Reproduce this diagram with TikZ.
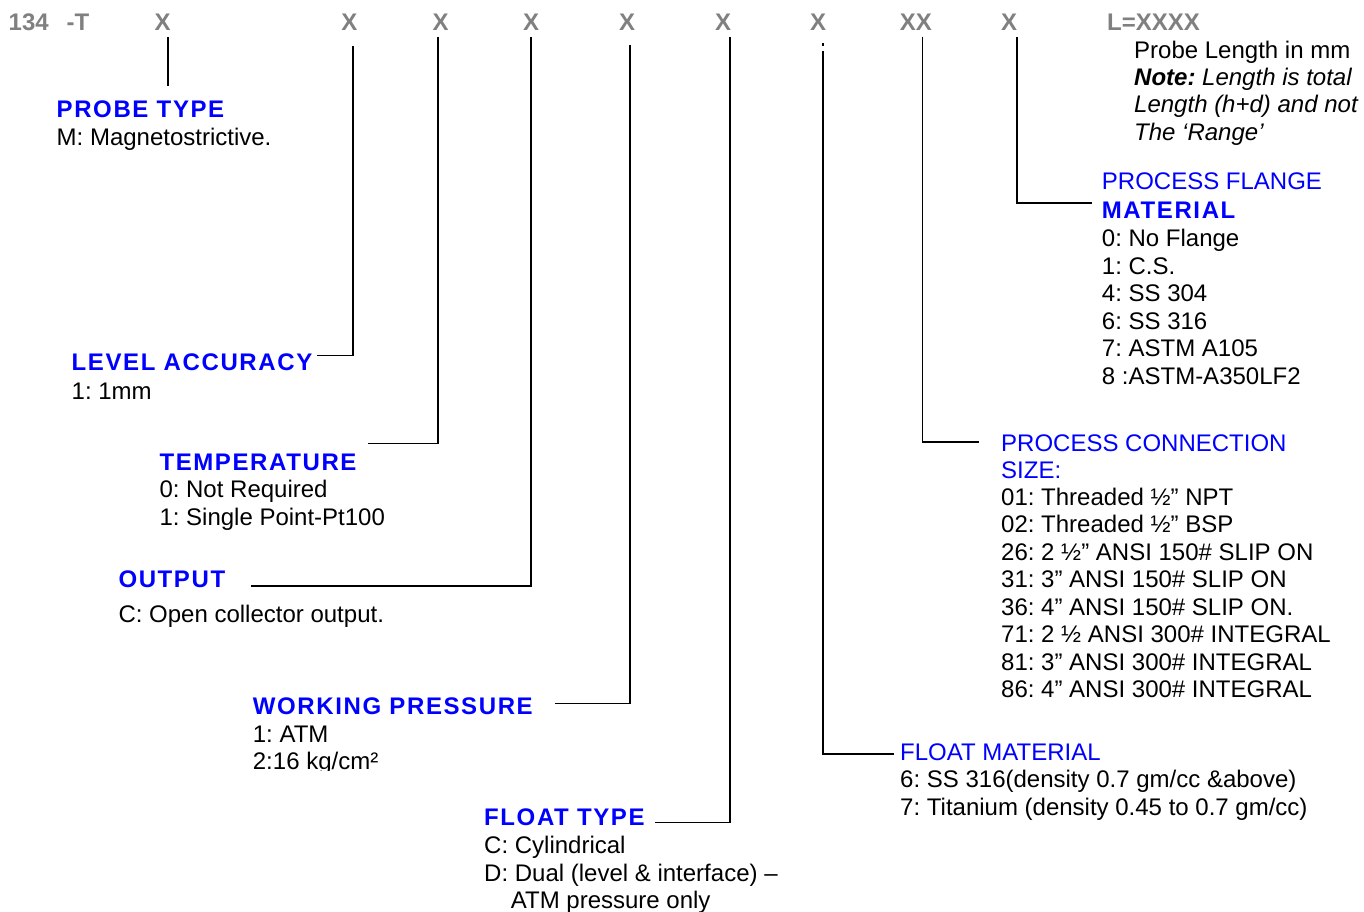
\documentclass[tikz,border=0pt]{standalone}
\usepackage{fontspec}
\setmainfont{Liberation Sans}
\frenchspacing
\definecolor{hblue}{RGB}{0,0,255}
\definecolor{codegray}{RGB}{128,128,128}
\tikzset{
  code/.style={font=\fontsize{24pt}{27pt}\selectfont\bfseries, text=codegray, inner sep=0pt, anchor=base},
  head/.style={font=\fontsize{24pt}{27pt}\selectfont\bfseries\addfontfeature{LetterSpace=6.7}, text=hblue, inner sep=0pt, anchor=base west},
  headplain/.style={font=\fontsize{24pt}{27pt}\selectfont, text=hblue, inner sep=0pt, anchor=base west},
  body/.style={font=\fontsize{24pt}{27pt}\selectfont\frenchspacing, text=black, inner sep=0pt, anchor=base west},
  conn/.style={draw=black, line width=1.6pt},
}
\begin{document}
\begin{tikzpicture}[x=1pt,y=-1pt]
\useasboundingbox (0,0) rectangle (1364,911);

% ---- code row ----
\node[code, anchor=base west] (c134) at (8.5,30) {134};
\node[code, anchor=base west] (cT) at (66.5,30) {-T};
\node[code] (tx1) at (162.7,30) {X};
\node[code] (tx2) at (349.3,30) {X};
\node[code] (tx3) at (440.7,30) {X};
\node[code] (tx4) at (531,30) {X};
\node[code] (tx5) at (627,30) {X};
\node[code] (tx6) at (723,30) {X};
\node[code] (tx7) at (818,30) {X};
\node[code] (tx8) at (915.8,30) {XX};
\node[code] (tx9) at (1009,30) {X};
\node[code, anchor=base west] (lx) at (1107,30) {L=XXXX};

% ---- probe length note ----
\node[body] (pl1) at (1134,58.3) {Probe Length in mm};
\node[body] (pl2) at (1134,85.6) {{\bfseries\itshape Note:} {\itshape Length is total}};
\node[body] (pl3) at (1134,112.9) {\itshape Length (h+d) and not};
\node[body] (pl4) at (1134,140.2) {\itshape The ‘Range’};

% ---- probe type ----
\node[head] (pt) at (56.5,117) {PROBE TYPE};
\node[body] (ptb) at (56.5,145) {M: Magnetostrictive.};

% ---- level accuracy ----
\node[head] (la) at (71.5,370.5) {LEVEL ACCURACY};
\node[body] (lab) at (71.5,399.3) {1: 1mm};

% ---- temperature ----
\node[head] (te) at (159.3,470) {TEMPERATURE};
\node[body] (teb1) at (159.3,497.7) {0: Not Required};
\node[body] (teb2) at (159.3,525) {1: Single Point-Pt100};

% ---- output ----
\node[head] (ou) at (118.3,587) {OUTPUT};
\node[body] (oub) at (118.3,622.7) {C: Open collector output.};

% ---- working pressure ----
\node[head] (wp) at (252.7,714) {WORKING PRESSURE};
\node[body] (wpb1) at (252.7,742.7) {1: ATM};
\begin{scope}
  \clip (240,745) rectangle (560,770.7);
  \node[body] (wpb2) at (252.7,769.5) {2:16 kg/cm²};
\end{scope}

% ---- float type ----
\node[head] (ft) at (484,825) {FLOAT TYPE};
\node[body] (ftb1) at (484,853) {C: Cylindrical};
\node[body] (ftb2) at (484,881) {D: Dual (level \& interface) –};
\node[body] (ftb3) at (510.7,908) {ATM pressure only};

% ---- float material ----
\node[headplain] (fm) at (900,760) {FLOAT MATERIAL};
\node[body] (fmb1) at (900,787.5) {6: SS 316(density 0.7 gm/cc \&above)};
\node[body] (fmb2) at (900,815) {7: Titanium (density 0.45 to 0.7 gm/cc)};

% ---- process connection size ----
\node[headplain] (pc) at (1001,451) {PROCESS CONNECTION};
\node[headplain] (pc2) at (1001,478.5) {SIZE:};
\foreach \t [count=\i from 0] in {01: Threaded ½” NPT, 02: Threaded ½” BSP, 26: 2 ½” ANSI 150\# SLIP ON, 31: 3” ANSI 150\# SLIP ON, 36: 4” ANSI 150\# SLIP ON., 71: 2 ½ ANSI 300\# INTEGRAL, 81: 3” ANSI 300\# INTEGRAL, 86: 4” ANSI 300\# INTEGRAL}
  \node[body] (pci\i) at (1001,505.5+27.43*\i) {\t};

% ---- process flange material ----
\node[headplain] (pf) at (1101.7,189.3) {PROCESS FLANGE};
\node[head] (pf2) at (1101.7,218.3) {MATERIAL};
\foreach \t [count=\i from 0] in {0: No Flange, 1: C.S., 4: SS 304, 6: SS 316, 7: ASTM A105, 8 :ASTM-A350LF2}
  \node[body] (pfi\i) at (1101.7,246.7+27.46*\i) {\t};

% ---- connectors ----
\draw[conn] ([xshift=5.3pt,yshift=-7pt]tx1.base) -- ([xshift=111.5pt,yshift=31pt]pt.base west);
\draw[conn] ([xshift=3.7pt,yshift=-16pt]tx2.base) |- ([xshift=245.2pt,yshift=15.2pt]la.base west);
\draw[conn] ([xshift=-3pt,yshift=-7pt]tx3.base) |- ([xshift=208.7pt,yshift=26.7pt]te.base west);
\draw[conn] ([xshift=-0.3pt,yshift=-7pt]tx4.base) |- ([xshift=132.4pt,yshift=1pt]ou.base west);
\draw[conn] ([xshift=3pt,yshift=-15pt]tx5.base) |- ([xshift=302.3pt,yshift=10.7pt]wp.base west);
\draw[conn] ([xshift=7pt,yshift=-7pt]tx6.base) |- ([xshift=171pt,yshift=2.7pt]ft.base west);
\draw[conn] ([xshift=5pt,yshift=-13pt]tx7.base) -- ++(0,2.5);
\draw[conn] ([xshift=5pt,yshift=-21pt]tx7.base) |- ([xshift=-6pt,yshift=6pt]fm.base west);
\draw[conn] ([xshift=6.5pt,yshift=-6.7pt]tx8.base) |- ([xshift=-22pt,yshift=9.3pt]pc.base west);
\draw[conn] ([xshift=8pt,yshift=-7pt]tx9.base) |- ([xshift=-9.7pt,yshift=15.6pt]pf2.base west);
\end{tikzpicture}
\end{document}
